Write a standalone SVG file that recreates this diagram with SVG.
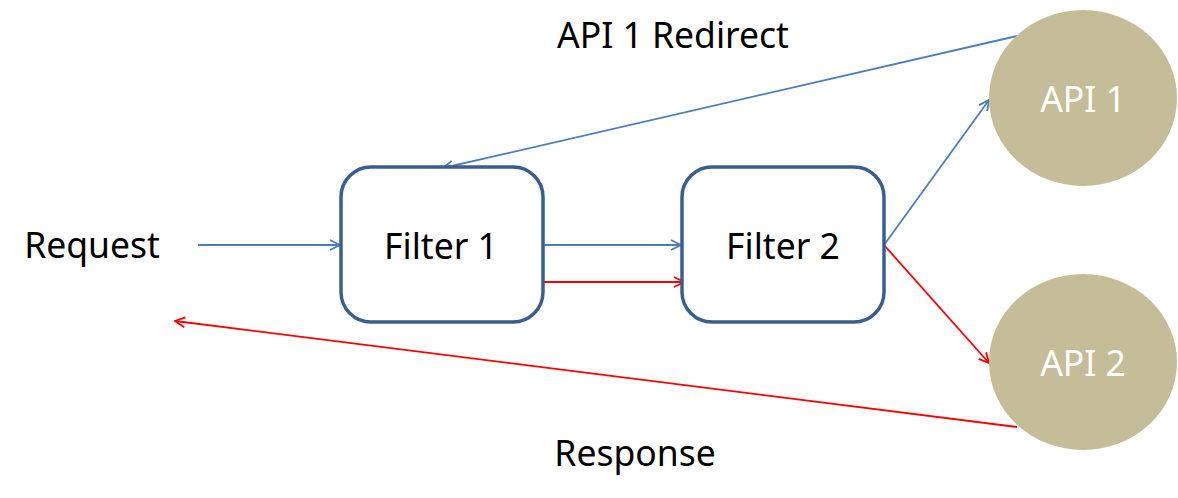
<svg xmlns="http://www.w3.org/2000/svg" width="1178" height="498" viewBox="0 0 1178 498">
<defs>
<style>
.t{font-family:"Noto Sans","Open Sans","DejaVu Sans",sans-serif;font-size:35.5px;fill:#000;text-anchor:middle}
.w{fill:#fff}
.box{fill:#fff;stroke:#3A5F8F;stroke-width:3.5}
.api{fill:#C4BD97}
.b{stroke:#4A7EBB;stroke-width:1.8;fill:none}
.r{stroke:#FF0000;stroke-width:1.8;fill:none}
</style>
<marker id="ab" viewBox="0 0 12 12" refX="11" refY="6" markerWidth="12" markerHeight="12" markerUnits="userSpaceOnUse" orient="auto">
<path d="M1,1 L11,6 L1,11" fill="none" stroke="#4A7EBB" stroke-width="1.8"/>
</marker>
<marker id="ar" viewBox="0 0 12 12" refX="11" refY="6" markerWidth="12" markerHeight="12" markerUnits="userSpaceOnUse" orient="auto">
<path d="M1,1 L11,6 L1,11" fill="none" stroke="#FF0000" stroke-width="1.8"/>
</marker>
</defs>
<rect width="1178" height="498" fill="#fff"/>
<g id="connectors">
<line class="b" x1="198" y1="245" x2="340" y2="245" marker-end="url(#ab)"/>
<line class="b" x1="543" y1="245" x2="681" y2="245" marker-end="url(#ab)"/>
<line class="r" x1="543" y1="282" x2="684" y2="282" marker-end="url(#ar)"/>
<line class="b" x1="884" y1="245" x2="989" y2="100" marker-end="url(#ab)"/>
<line class="r" x1="884" y1="245" x2="989" y2="363" marker-end="url(#ar)"/>
<line class="b" x1="1017" y1="36" x2="443" y2="168" marker-end="url(#ab)"/>
<line class="r" x1="1017" y1="427" x2="175" y2="321" marker-end="url(#ar)"/>
</g>
<g id="filter1">
<rect class="box" x="341" y="167" width="202" height="155" rx="30"/>
<text class="t" x="441" y="259">Filter 1</text>
</g>
<g id="filter2">
<rect class="box" x="682" y="167" width="202" height="155" rx="30"/>
<text class="t" x="783" y="259">Filter 2</text>
</g>
<g id="api1">
<ellipse class="api" cx="1083" cy="98" rx="94" ry="88"/>
<text class="t w" x="1083" y="112">API 1</text>
</g>
<g id="api2">
<ellipse class="api" cx="1083" cy="362" rx="94" ry="88"/>
<text class="t w" x="1083" y="376">API 2</text>
</g>
<g id="labels">
<text class="t" x="92" y="258">Request</text>
<text class="t" x="673" y="48">API 1 Redirect</text>
<text class="t" x="635" y="466">Response</text>
</g>
</svg>
